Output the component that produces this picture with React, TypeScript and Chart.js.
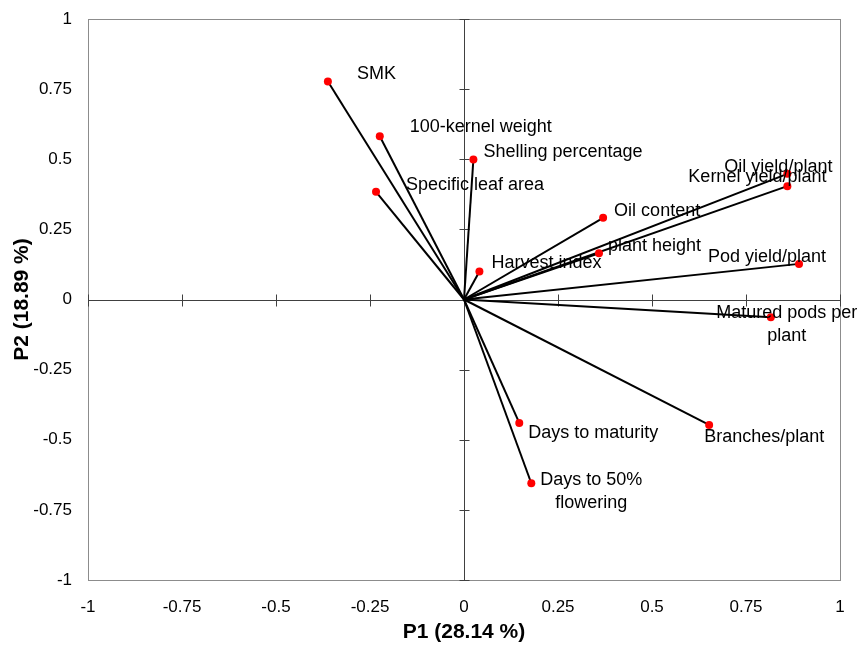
import React, { useEffect, useRef } from 'react';
import { Chart, registerables } from 'chart.js';

Chart.register(...registerables);

// ---- Data ----
const variables = [
  'SMK',
  '100-kernel weight',
  'Specific leaf area',
  'Shelling percentage',
  'Harvest index',
  'Oil content',
  'plant height',
  'Oil yield/plant',
  'Kernel yield/plant',
  'Pod yield/plant',
  'Matured pods per\nplant',
  'Branches/plant',
  'Days to maturity',
  'Days to 50%\nflowering',
];
const p1Loadings = [-0.362, -0.224, -0.234, 0.025, 0.041, 0.37, 0.359, 0.86, 0.86, 0.891, 0.816, 0.652, 0.147, 0.179];
const p2Loadings = [0.777, 0.582, 0.384, 0.499, 0.1, 0.291, 0.165, 0.448, 0.404, 0.127, -0.063, -0.447, -0.44, -0.655];
const axisTicks = [-1, -0.75, -0.5, -0.25, 0, 0.25, 0.5, 0.75, 1];
const xTitle = 'P1 (28.14 %)';
const yTitle = 'P2 (18.89 %)';

// ---- Label placement (pixel offsets from each point; style only) ----
const labelOffsets: { dx: number; dy: number; align: CanvasTextAlign }[] = [
  { dx: 29, dy: -8, align: 'left' },
  { dx: 30, dy: -9, align: 'left' },
  { dx: 30, dy: -7, align: 'left' },
  { dx: 10, dy: -7, align: 'left' },
  { dx: 12, dy: -8, align: 'left' },
  { dx: 11, dy: -7, align: 'left' },
  { dx: 9, dy: -7, align: 'left' },
  { dx: -63, dy: -7, align: 'left' },
  { dx: -99, dy: -9, align: 'left' },
  { dx: -91, dy: -7, align: 'left' },
  { dx: 16, dy: -4, align: 'center' },
  { dx: -5, dy: 12, align: 'left' },
  { dx: 9, dy: 10, align: 'left' },
  { dx: 60, dy: -3, align: 'center' },
];

const FONT = '"Liberation Sans", Arial, Helvetica, sans-serif';

export default function App() {
  const ref = useRef<HTMLCanvasElement>(null);

  useEffect(() => {
    if (!ref.current) return;

    const datasets = variables.map((name, i) => ({
      label: name,
      data: [
        { x: 0, y: 0 },
        { x: p1Loadings[i], y: p2Loadings[i] },
      ],
      showLine: true,
      borderColor: '#000000',
      borderWidth: 2,
      pointRadius: (c: any) => (c.dataIndex === 1 ? 4 : 0),
      pointHoverRadius: (c: any) => (c.dataIndex === 1 ? 4 : 0),
      pointBackgroundColor: '#ff0000',
      pointBorderColor: '#ff0000',
      pointBorderWidth: 0,
      fill: false,
    }));

    const framePlugin = {
      id: 'frame',
      beforeDatasetsDraw(chart: any) {
        const { ctx, chartArea, scales } = chart;
        const { left, right, top, bottom } = chartArea;
        const xs = scales.x;
        const ys = scales.y;
        ctx.save();
        ctx.lineWidth = 1;
        ctx.strokeStyle = '#8c8c8c';
        ctx.strokeRect(Math.round(left) + 0.5, Math.round(top) + 0.5, Math.round(right - left), Math.round(bottom - top));
        const x0 = Math.round(xs.getPixelForValue(0)) + 0.5;
        const y0 = Math.round(ys.getPixelForValue(0)) + 0.5;
        ctx.strokeStyle = '#404040';
        ctx.beginPath();
        ctx.moveTo(x0, top);
        ctx.lineTo(x0, bottom);
        ctx.moveTo(left, y0);
        ctx.lineTo(right, y0);
        axisTicks.forEach((v) => {
          const xp = Math.round(xs.getPixelForValue(v)) + 0.5;
          ctx.moveTo(xp, y0 - 6);
          ctx.lineTo(xp, y0 + 6);
          const yp = Math.round(ys.getPixelForValue(v)) + 0.5;
          ctx.moveTo(x0 - 5, yp);
          ctx.lineTo(x0 + 5, yp);
        });
        ctx.stroke();
        ctx.restore();
      },
    };

    const labelPlugin = {
      id: 'vectorLabels',
      afterDatasetsDraw(chart: any) {
        const { ctx, scales } = chart;
        ctx.save();
        ctx.font = `18px ${FONT}`;
        ctx.fillStyle = '#000000';
        ctx.textBaseline = 'middle';
        variables.forEach((name, i) => {
          const px = scales.x.getPixelForValue(p1Loadings[i]);
          const py = scales.y.getPixelForValue(p2Loadings[i]);
          const off = labelOffsets[i];
          ctx.textAlign = off.align;
          name.split('\n').forEach((line, k) => {
            ctx.fillText(line, px + off.dx, py + off.dy + k * 23);
          });
        });
        ctx.restore();
      },
    };

    const noPad = (s: any) => {
      s.paddingTop = 0;
      s.paddingBottom = 0;
      s.paddingLeft = 0;
      s.paddingRight = 0;
    };

    const chart = new Chart(ref.current, {
      type: 'scatter',
      data: { datasets: datasets as any },
      options: {
        animation: false,
        responsive: true,
        maintainAspectRatio: false,
        layout: { padding: { top: 19, right: 20, bottom: 0, left: 0 } },
        plugins: {
          legend: { display: false },
          tooltip: { enabled: false },
        },
        scales: {
          x: {
            type: 'linear',
            position: 'bottom',
            min: -1,
            max: 1,
            grid: { display: false, drawTicks: false },
            border: { display: false },
            afterBuildTicks: (s: any) => {
              s.ticks = axisTicks.map((v) => ({ value: v }));
            },
            afterFit: (s: any) => {
              s.height = 65;
              noPad(s);
            },
            ticks: {
              padding: 17,
              color: '#000000',
              font: { family: FONT, size: 17 },
              callback: (v: any) => String(v),
            },
            title: {
              display: true,
              text: xTitle,
              color: '#000000',
              font: { family: FONT, size: 21, weight: 'bold' },
              padding: { top: 0, bottom: 0 },
            },
          },
          y: {
            type: 'linear',
            position: 'left',
            min: -1,
            max: 1,
            grid: { display: false, drawTicks: false },
            border: { display: false },
            afterBuildTicks: (s: any) => {
              s.ticks = axisTicks.map((v) => ({ value: v }));
            },
            afterFit: (s: any) => {
              s.width = 88;
              noPad(s);
            },
            ticks: {
              padding: 16,
              color: '#000000',
              font: { family: FONT, size: 17 },
              callback: (v: any) => String(v),
            },
            title: {
              display: true,
              text: yTitle,
              color: '#000000',
              font: { family: FONT, size: 21, weight: 'bold' },
              padding: { top: 10, bottom: 0 },
            },
          },
        },
      },
      plugins: [framePlugin, labelPlugin],
    });

    return () => chart.destroy();
  }, []);

  return (
    <div style={{ position: 'fixed', left: 0, top: 0, width: 860, height: 645, background: '#ffffff' }}>
      <canvas ref={ref} />
    </div>
  );
}
